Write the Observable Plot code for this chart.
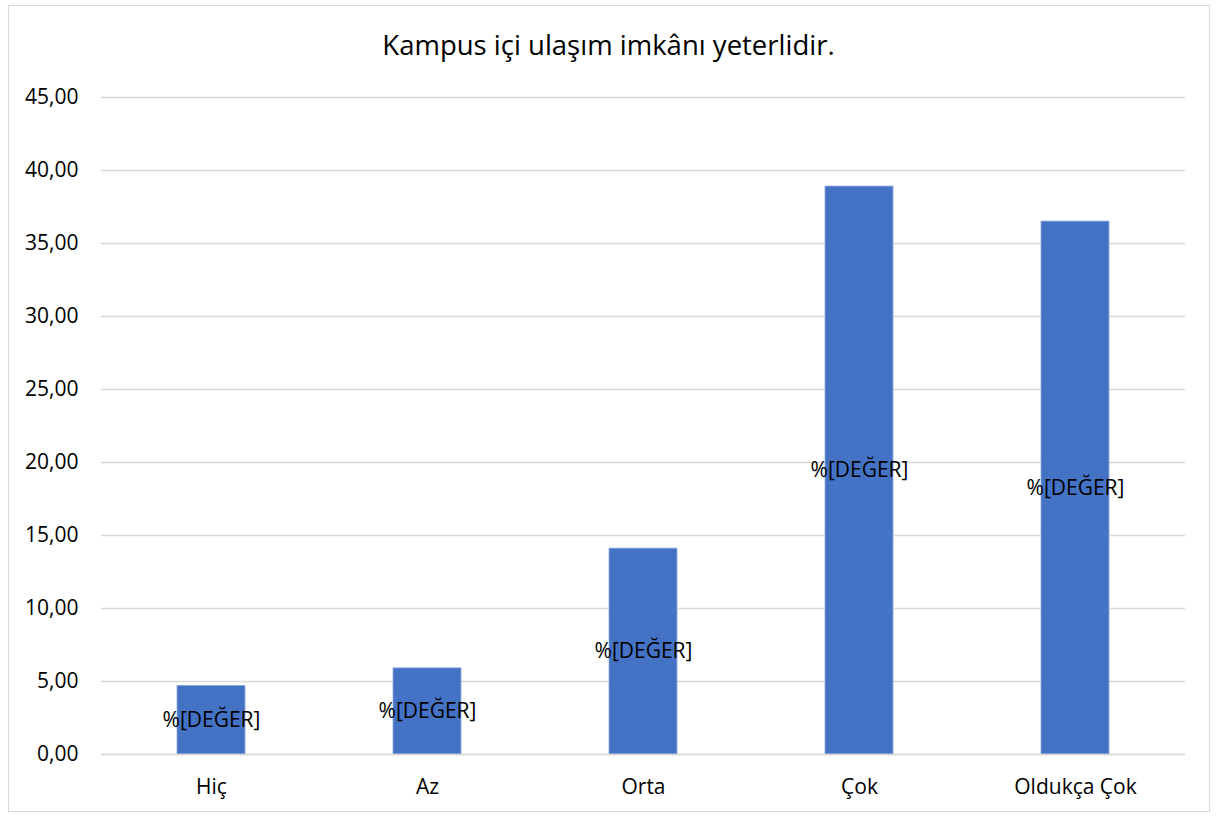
<!DOCTYPE html>
<html><head><meta charset="utf-8">
<script src="https://cdn.jsdelivr.net/npm/d3@7"></script>
<script src="https://cdn.jsdelivr.net/npm/@observablehq/plot@0.6"></script>
<style>
body{margin:0;background:#fff;font-family:"Open Sans","Noto Sans",sans-serif;}
#wrap{position:relative;width:1217px;height:817px;}
#border{position:absolute;left:8px;top:5px;width:1200px;height:805px;border:1.5px solid #d9d9d9;}
#title{position:absolute;left:0;width:1217px;top:26px;text-align:center;font-size:27.5px;color:#000;}
#chart{position:absolute;left:0;top:0;}
</style></head>
<body>
<div id="wrap"><div id="border"></div><div id="chart"></div><div id="title">Kampus içi ulaşım imkânı yeterlidir.</div></div>
<script>
const categories = ["Hiç","Az","Orta","Çok","Oldukça Çok"];
const values = [4.7, 5.9, 14.1, 38.9, 36.5];
const labelText = "%[DEĞER]";
const yTicks = [0,5,10,15,20,25,30,35,40,45];

const data = categories.map((c,i)=>({cat:c, v:values[i]}));
const fmt = d => d.toFixed(2).replace(".", ",");

const plot = Plot.plot({
  width: 1217, height: 817,
  marginTop: 97, marginBottom: 63, marginLeft: 101, marginRight: 32,
  style: {fontFamily: '"Open Sans","Noto Sans",sans-serif', fontSize: "21px", color: "#000", background: "transparent"},
  x: {domain: categories, paddingInner: 0.687, paddingOuter: 0.3435, label: null},
  y: {domain: [0,45], label: null},
  marks: [
    Plot.gridY(yTicks, {stroke: "#d9d9d9", strokeOpacity: 1, strokeWidth: 1.3}),
    Plot.axisY(yTicks, {tickSize: 0, tickPadding: 23, tickFormat: fmt, fontSize: 21, label: null}),
    Plot.axisX({tickSize: 0, tickPadding: 25, fontSize: 21, label: null}),
    Plot.barY(data, {x: "cat", y: "v", fill: "#4472C4", stroke: "#8eaadc", strokeWidth: 0.8}),
    Plot.ruleY([0], {stroke: "#d9d9d9", strokeWidth: 1.5}),
    Plot.text(data, {x: "cat", y: d => d.v/2, text: () => labelText, fill: "#000", fontSize: 21})
  ]
});
document.getElementById("chart").appendChild(plot);
</script>
</body></html>
